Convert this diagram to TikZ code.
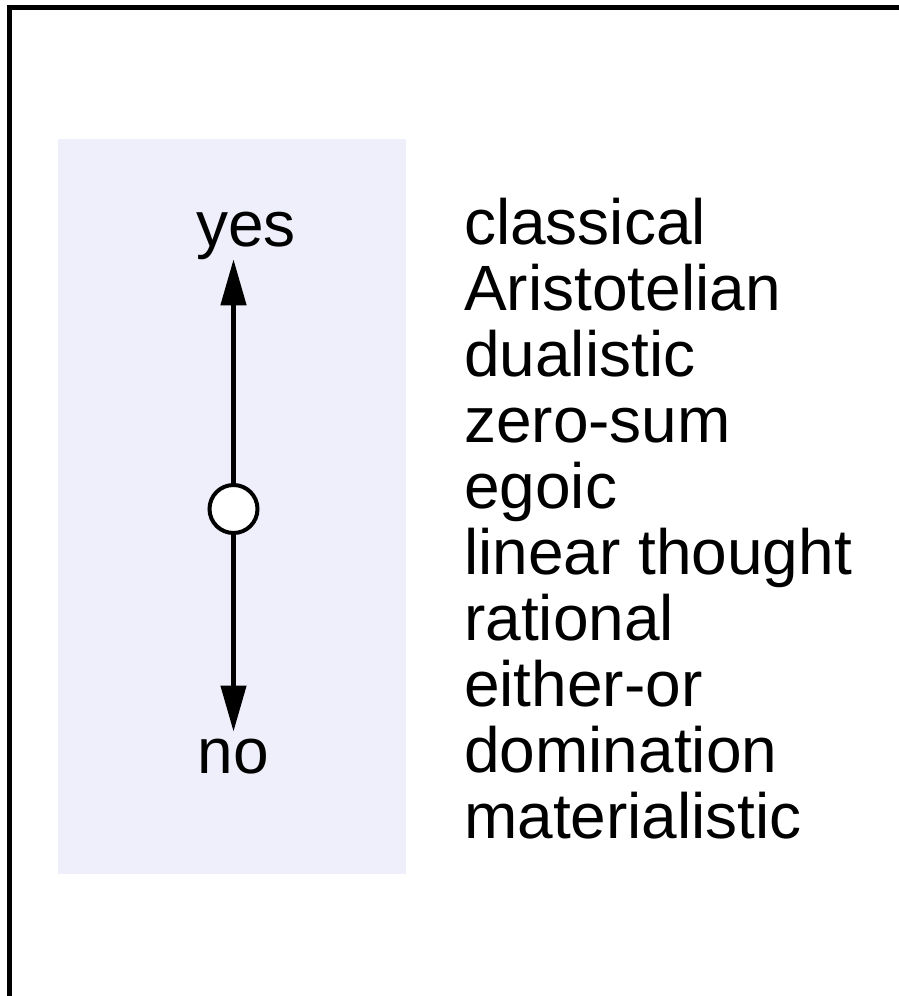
\documentclass[tikz,border=0pt]{standalone}
\usepackage{fontspec}
\setmainfont{Liberation Sans}
\usetikzlibrary{positioning,arrows.meta}
\definecolor{Lavender}{HTML}{EFEFFC}
\tikzset{
  scale label/.style={font=\fontsize{64}{66}\selectfont,inner sep=0pt,outer sep=0pt},
  scale arrow/.style={-{Triangle[length=46pt,width=25pt]},line width=4.5pt},
  scale knob/.style={draw,circle,line width=4pt,fill=white,minimum size=48pt,
    inner sep=0pt,outer sep=0pt},
  word list/.style={font=\fontsize{64}{66}\selectfont,align=left,inner sep=0pt,
    anchor=base west}
}

\begin{document}
\begin{tikzpicture}[x=1pt,y=-1pt]
  \useasboundingbox (0,0) rectangle (899,996);
  \draw[line width=5.5pt] (9.5,1000) -- (9.5,7.5) -- (905,7.5);
  \fill[Lavender] (58,139) rectangle (406,874);
  \node[scale knob] (knob) at (233.5,509) {};
  % label sits a little right of the axis
  \node[scale label,anchor=base] (yes) at (246,246) {yes};
  \node[scale label,anchor=base] (no) at (233.5,773) {no};
  \draw[scale arrow] (knob) -- (knob |- yes.south);
  \draw[scale arrow,shorten >=7pt] (knob) -- (no);
  % base anchor of a multi-line node is its last line
  \node[word list] (list) at (464,838) {classical\\Aristotelian\\dualistic\\zero-sum\\egoic\\linear thought\\rational\\either-or\\domination\\materialistic};
\end{tikzpicture}
\end{document}
